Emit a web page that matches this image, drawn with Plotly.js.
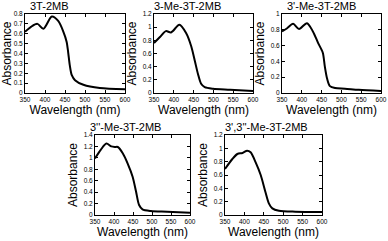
<!DOCTYPE html>
<html><head><meta charset="utf-8">
<script src="https://cdn.plot.ly/plotly-3.0.1.min.js"></script>
<style>html,body{margin:0;padding:0;background:#fff}#c{width:388px;height:241px}</style>
</head><body><div id="c"></div>
<script>
// Panel titles
const titles = ["3T-2MB", "3-Me-3T-2MB", "3'-Me-3T-2MB", "3''-Me-3T-2MB", "3',3''-Me-3T-2MB"];
// Wavelengths (nm) and absorbance per compound
const wl1 = [350, 365, 381, 396, 417, 433, 446, 454, 458, 462, 467, 475, 496, 537, 600];
const ab1 = [0.62, 0.67, 0.70, 0.65, 0.774, 0.73, 0.62, 0.52, 0.41, 0.28, 0.18, 0.13, 0.083, 0.05, 0.037];
const wl2 = [350, 365, 380, 393, 414, 431, 444, 453, 461, 469, 478, 499, 542, 600];
const ab2 = [0.76, 0.85, 0.94, 0.92, 1.035, 0.91, 0.71, 0.49, 0.29, 0.14, 0.09, 0.065, 0.05, 0.03];
const wl3 = [350, 363, 378, 393, 413, 428, 441, 453, 458, 464, 471, 484, 509, 544, 600];
const ab3 = [0.78, 0.82, 0.876, 0.81, 0.884, 0.78, 0.635, 0.51, 0.34, 0.18, 0.087, 0.062, 0.054, 0.04, 0.025];
const wl4 = [350, 365, 380, 393, 402, 410, 423, 436, 449, 458, 466, 475, 497, 540, 600];
const ab4 = [0.99, 1.14, 1.25, 1.20, 1.19, 1.19, 1.08, 0.90, 0.67, 0.41, 0.175, 0.10, 0.07, 0.058, 0.04];
const wl5 = [350, 369, 382, 395, 407, 416, 429, 442, 454, 463, 472, 489, 531, 600];
const ab5 = [0.69, 0.84, 0.915, 0.93, 0.965, 0.94, 0.79, 0.60, 0.35, 0.175, 0.10, 0.065, 0.05, 0.045];
// Axis ranges
const yMax = [0.8, 1.2, 1.0, 1.4, 1.2];
const yStep = [0.1, 0.2, 0.2, 0.2, 0.2];
const xRange = [350, 600];
const xTitle = "Wavelength (nm)";
const yTitle = "Absorbance";

const W = 388, H = 241;
const boxes = [ // pixel boxes [x0,x1,y0,y1]
  [25, 125, 14, 93], [154, 253, 14, 93], [282, 381, 14, 93],
  [95, 190, 135, 215], [225, 322, 135, 215]
];
const titlePos = [[28, 6], [152, 6], [285, 6], [88, 127], [223, 127]];
const WL = [wl1, wl2, wl3, wl4, wl5], AB = [ab1, ab2, ab3, ab4, ab5];
const font = "Arial, 'Liberation Sans', sans-serif";

const data = [], layout = {
  width: W, height: H, margin: {l: 0, r: 0, t: 0, b: 0},
  paper_bgcolor: "#fff", plot_bgcolor: "#fff", showlegend: false,
  font: {family: font, color: "#000"}, annotations: []
};
for (let i = 0; i < 5; i++) {
  const s = i === 0 ? "" : String(i + 1);
  data.push({x: WL[i], y: AB[i], type: "scatter", mode: "lines",
    line: {color: "#000", width: 2, shape: "spline", smoothing: 0.8},
    xaxis: "x" + s, yaxis: "y" + s, hoverinfo: "skip"});
  const b = boxes[i];
  const common = {showgrid: false, zeroline: false, showline: true, linecolor: "#000", linewidth: 1,
    mirror: "ticks", ticks: "inside", ticklen: 3, tickwidth: 1, tickcolor: "#000",
    tickfont: {size: 6.5, family: font, color: "#000"}};
  layout["xaxis" + s] = Object.assign({}, common, {
    domain: [b[0] / W, b[1] / W], range: xRange, dtick: 50, tick0: 350,
    anchor: "y" + s, title: {text: xTitle, font: {size: 12}, standoff: 2}});
  layout["yaxis" + s] = Object.assign({}, common, {
    domain: [1 - b[3] / H, 1 - b[2] / H], range: [0, yMax[i]], dtick: yStep[i], tick0: 0,
    anchor: "x" + s, title: {text: yTitle, font: {size: 12}, standoff: 3}});
  layout.annotations.push({text: titles[i], xref: "paper", yref: "paper",
    x: titlePos[i][0] / W, y: 1 - titlePos[i][1] / H, xanchor: "left", yanchor: "middle",
    showarrow: false, font: {size: 11, family: font, color: "#000"}});
}
Plotly.newPlot("c", data, layout, {staticPlot: true, displayModeBar: false});
</script></body></html>
